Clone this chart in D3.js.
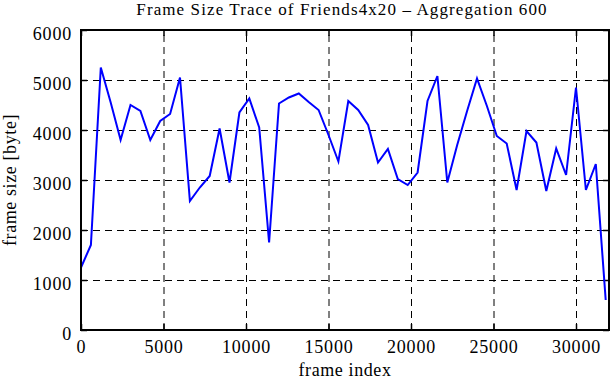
<!DOCTYPE html>
<html lang="en">
	<head>
		<meta charset="utf-8">
		<title>Frame Size Trace</title>
		<script src="https://cdnjs.cloudflare.com/ajax/libs/d3/7.8.5/d3.min.js"></script>
		<style type="text/css">
			html, body {
				margin: 0;
				padding: 0;
				background: white;
			}
			svg text {
				font-family: "Liberation Serif", "DejaVu Serif", serif;
				fill: black;
			}
			.grid line {
				stroke: black;
				stroke-width: 1px;
				stroke-dasharray: 7, 5;
			}
		</style>
	</head>
	<body>
		<svg id="chart" width="611" height="380"></svg>
		<script type="text/javascript">

			// frame index (aggregation of 600 frames)
			var frameIndex = [0, 600, 1200, 1800, 2400, 3000, 3600, 4200, 4800, 5400,
				6000, 6600, 7200, 7800, 8400, 9000, 9600, 10200, 10800, 11400,
				12000, 12600, 13200, 13800, 14400, 15000, 15600, 16200, 16800, 17400,
				18000, 18600, 19200, 19800, 20400, 21000, 21600, 22200, 22800, 23400,
				24000, 24600, 25200, 25800, 26400, 27000, 27600, 28200, 28800, 29400,
				30000, 30600, 31200, 31800];

			// frame size in byte
			var frameSize = [1250, 1700, 5250, 4550, 3800, 4500, 4380, 3800, 4180, 4320,
				5050, 2580, 2850, 3080, 4030, 2950, 4350, 4630, 4050, 1750,
				4530, 4650, 4730, 4560, 4400, 3900, 3370, 4580, 4400, 4100,
				3350, 3620, 3020, 2900, 3150, 4580, 5080, 2950, 3700, 4380,
				5030, 4480, 3880, 3730, 2800, 3980, 3750, 2780, 3630, 3100,
				4850, 2800, 3320, 600];

			var xTicks = [0, 5000, 10000, 15000, 20000, 25000, 30000];
			var yTicks = [0, 1000, 2000, 3000, 4000, 5000, 6000];

			var plot_left = 81, plot_right = 609, plot_top = 30, plot_bottom = 330;
			var fontSize = 18;

			var svg = d3.select("#chart");

			var x = d3.scaleLinear().domain([0, 32000]).range([plot_left, plot_right]);
			var y = d3.scaleLinear().domain([0, 6000]).range([plot_bottom, plot_top]);

			//---------------------------------------------
			// grid - dashed black lines
			//---------------------------------------------
			svg.append("g")
				.attr("class", "grid")
				.attr("transform", "translate(0," + plot_bottom + ")")
				.call(d3.axisBottom(x).tickValues(xTicks.slice(1)).tickSize(-(plot_bottom - plot_top)).tickFormat(""))
				.call(function (g) { g.select(".domain").remove(); });

			svg.append("g")
				.attr("class", "grid")
				.attr("transform", "translate(" + plot_left + ",0)")
				.call(d3.axisLeft(y).tickValues(yTicks.slice(1, -1)).tickSize(-(plot_right - plot_left)).tickFormat(""))
				.call(function (g) { g.select(".domain").remove(); });

			//---------------------------------------------
			// axes - inward ticks on all four sides
			//---------------------------------------------
			function styleAxis(g) {
				g.select(".domain").remove();
				g.selectAll(".tick line").attr("stroke", "black").attr("stroke-width", 1.5);
				g.selectAll(".tick text")
					.style("font-size", fontSize + "px")
					.style("letter-spacing", "0.8px")
					.attr("fill", "black");
			}

			svg.append("g")
				.attr("transform", "translate(0," + plot_bottom + ")")
				.call(d3.axisBottom(x).tickValues(xTicks).tickSize(-6).tickPadding(10).tickFormat(d3.format("d")))
				.call(styleAxis);

			svg.append("g")
				.attr("transform", "translate(0," + plot_top + ")")
				.call(d3.axisTop(x).tickValues(xTicks).tickSize(-6).tickFormat(""))
				.call(styleAxis);

			svg.append("g")
				.attr("transform", "translate(" + plot_left + ",0)")
				.call(d3.axisLeft(y).tickValues(yTicks).tickSize(-6).tickPadding(9).tickFormat(d3.format("d")))
				.call(styleAxis)
				.call(function (g) { g.selectAll(".tick text").attr("dy", "0.5em"); });

			svg.append("g")
				.attr("transform", "translate(" + plot_right + ",0)")
				.call(d3.axisRight(y).tickValues(yTicks).tickSize(-6).tickFormat(""))
				.call(styleAxis);

			//---------------------------------------------
			// data line
			//---------------------------------------------
			var points = frameIndex.map(function (d, i) { return [d, frameSize[i]]; });

			svg.append("path")
				.datum(points)
				.attr("fill", "none")
				.attr("stroke", "#0000ff")
				.attr("stroke-width", 2)
				.attr("stroke-linejoin", "miter")
				.attr("d", d3.line().x(function (d) { return x(d[0]); }).y(function (d) { return y(d[1]); }));

			// frame
			svg.append("rect")
				.attr("x", plot_left).attr("y", plot_top)
				.attr("width", plot_right - plot_left).attr("height", plot_bottom - plot_top)
				.attr("fill", "none")
				.attr("stroke", "black")
				.attr("stroke-width", 2);

			//---------------------------------------------
			// labels
			//---------------------------------------------
			svg.append("text")
				.attr("x", (plot_left + plot_right) / 2 - 3)
				.attr("y", 15)
				.attr("text-anchor", "middle")
				.style("font-size", "17px")
				.style("letter-spacing", "1.1px")
				.text("Frame Size Trace of Friends4x20 \u2013 Aggregation 600");

			svg.append("text")
				.attr("x", (plot_left + plot_right) / 2)
				.attr("y", 376)
				.attr("text-anchor", "middle")
				.style("font-size", fontSize + "px")
				.style("letter-spacing", "0.6px")
				.text("frame index");

			svg.append("text")
				.attr("transform", "translate(16," + (plot_top + plot_bottom) / 2 + ") rotate(-90)")
				.attr("text-anchor", "middle")
				.style("font-size", fontSize + "px")
				.style("letter-spacing", "0.6px")
				.text("frame size [byte]");

		</script>
	</body>
</html>
